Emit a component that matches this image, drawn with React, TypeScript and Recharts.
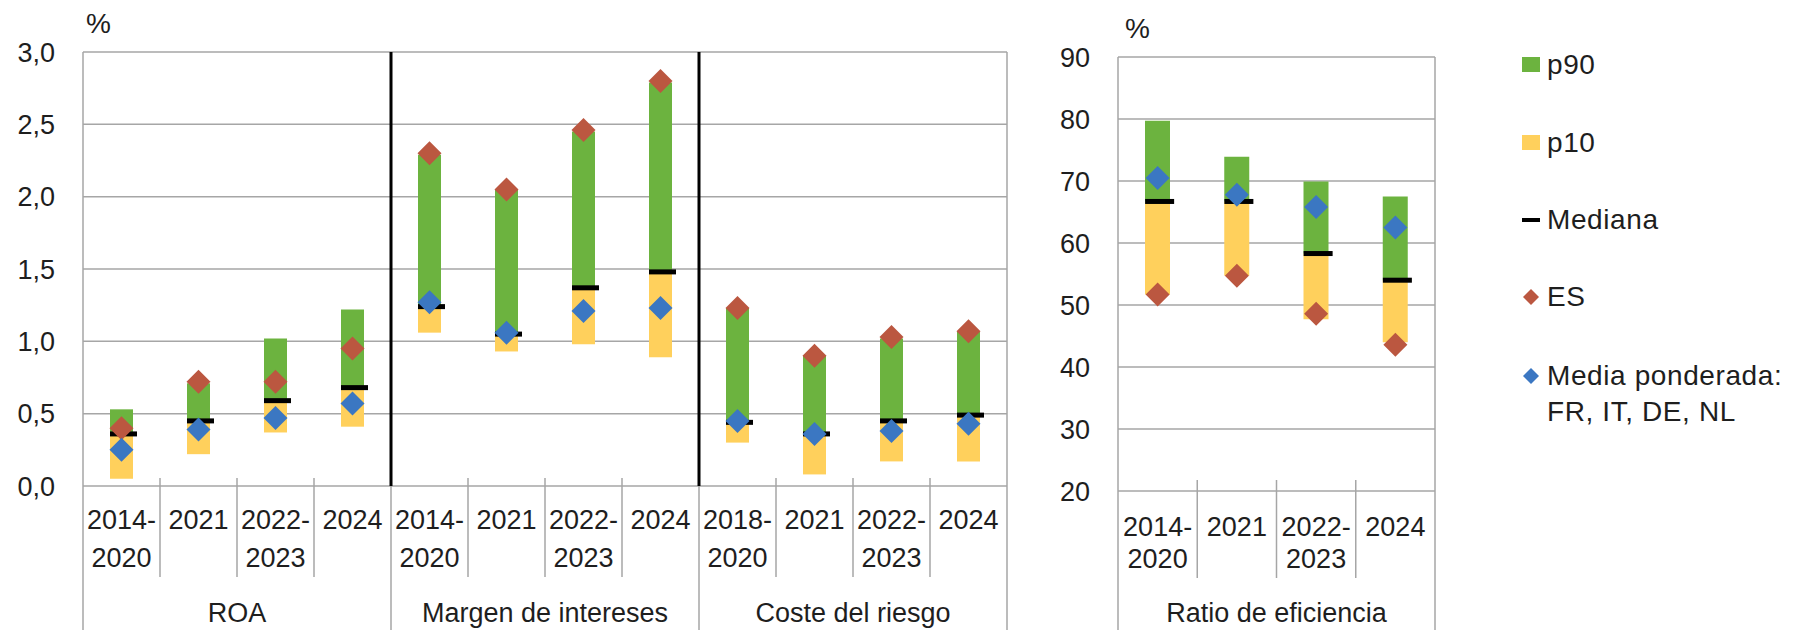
import React from 'react';
import { ComposedChart, Bar, Line, XAxis, YAxis, CartesianGrid, ReferenceLine } from 'recharts';

const GREEN = '#6cb33f';
const YELLOW = '#ffd05c';
const RED = '#bb5740';
const BLUE = '#3b77c2';
const GRID = '#a6a6a6';
const TEXT = '#1e1e1e';
const FONT = '"Liberation Sans", Arial, sans-serif';
const FS = 27;

// panel izquierdo: ROA, margen de intereses, coste del riesgo (%)
const periods = [
  '2014-2020', '2021', '2022-2023', '2024',
  '2014-2020', '2021', '2022-2023', '2024',
  '2018-2020', '2021', '2022-2023', '2024',
];
const groups = ['ROA', 'Margen de intereses', 'Coste del riesgo'];
const p10 = [0.05, 0.22, 0.37, 0.41, 1.06, 0.93, 0.98, 0.89, 0.30, 0.08, 0.17, 0.17];
const p90 = [0.53, 0.71, 1.02, 1.22, 2.29, 2.05, 2.45, 2.79, 1.23, 0.90, 1.02, 1.07];
const mediana = [0.36, 0.45, 0.59, 0.68, 1.24, 1.05, 1.37, 1.48, 0.44, 0.36, 0.45, 0.49];
const es = [0.40, 0.72, 0.72, 0.95, 2.30, 2.05, 2.46, 2.80, 1.23, 0.90, 1.03, 1.07];
const media = [0.25, 0.39, 0.47, 0.57, 1.27, 1.06, 1.21, 1.23, 0.45, 0.36, 0.38, 0.43];
const leftTicks = [0, 0.5, 1, 1.5, 2, 2.5, 3];

// panel derecho: ratio de eficiencia (%)
const effPeriods = ['2014-2020', '2021', '2022-2023', '2024'];
const effGroups = ['Ratio de eficiencia'];
const effP10 = [51.7, 54.7, 47.7, 44.0];
const effP90 = [79.7, 73.9, 69.9, 67.5];
const effMediana = [66.7, 66.7, 58.3, 54.0];
const effEs = [51.7, 54.7, 48.6, 43.6];
const effMedia = [70.5, 67.8, 65.8, 62.5];
const rightTicks = [20, 30, 40, 50, 60, 70, 80, 90];

const buildRows = (labels: string[], lo: number[], hi: number[], med: number[], e: number[], avg: number[]) =>
  labels.map((label, i) => ({
    key: `${i}|${label}`,
    base: lo[i],
    low: med[i] - lo[i],
    high: hi[i] - med[i],
    med: med[i],
    es: e[i],
    avg: avg[i],
  }));

const leftRows = buildRows(periods, p10, p90, mediana, es, media);
const rightRows = buildRows(effPeriods, effP10, effP90, effMediana, effEs, effMedia);

const fmtComma = (v: number) => v.toFixed(1).replace('.', ',');

const diamond = (color: string, h: number) => (p: any) => {
  const { cx, cy, index } = p;
  if (cx == null || cy == null) return <g key={index} />;
  return <path key={index} d={`M${cx},${cy - h}L${cx + h},${cy}L${cx},${cy + h}L${cx - h},${cy}Z`} fill={color} />;
};

const dash = (barW: number, w: number) => (p: any) => {
  const { cx, cy, index } = p;
  if (cx == null || cy == null) return <g key={index} />;
  return <rect key={index} x={cx - barW / 2} y={cy - 2.5} width={w} height={5} fill="#000" />;
};

type TickCfg = {
  labels: string[];
  groupLabels: string[];
  perGroup: number;
  bw: number;
  plotTop: number;
  axisY: number;
  tickTop: number;
  tickBottom: number;
  line1: number;
  line2: number;
  groupY: number;
  bottom: number;
};

const makeTick = (c: TickCfg) => (props: any) => {
  const { x, index } = props;
  const label = c.labels[index] ?? '';
  const dashAt = label.indexOf('-');
  const l1 = dashAt >= 0 ? label.slice(0, dashAt + 1) : label;
  const l2 = dashAt >= 0 ? label.slice(dashAt + 1) : '';
  const left = x - c.bw / 2;
  const right = x + c.bw / 2;
  const n = c.labels.length;
  const first = index % c.perGroup === 0;
  const txt = { fontSize: FS, fill: TEXT, textAnchor: 'middle' as const, dominantBaseline: 'central' as const };
  return (
    <g>
      {first ? (
        <line x1={left} x2={left} y1={index === 0 ? c.plotTop : c.axisY} y2={c.bottom} stroke={GRID} strokeWidth={1.5} />
      ) : (
        <line x1={left} x2={left} y1={c.tickTop} y2={c.tickBottom} stroke={GRID} strokeWidth={1.5} />
      )}
      {index === n - 1 && (
        <line x1={right} x2={right} y1={c.plotTop} y2={c.bottom} stroke={GRID} strokeWidth={1.5} />
      )}
      <text x={x} y={c.line1} {...txt}>{l1}</text>
      {l2 && <text x={x} y={c.line2} {...txt}>{l2}</text>}
      {first && (
        <text x={left + (c.perGroup * c.bw) / 2} y={c.groupY} {...txt}>
          {c.groupLabels[Math.floor(index / c.perGroup)]}
        </text>
      )}
    </g>
  );
};

const Panel = (props: {
  rows: any[];
  labels: string[];
  groupLabels: string[];
  width: number;
  yWidth: number;
  plotW: number;
  top: number;
  axisY: number;
  domain: [number, number];
  ticks: number[];
  fmt?: (v: number) => string;
  barW: number;
  separators: string[];
  tickTop: number;
  tickBottom: number;
  line1: number;
  line2: number;
}) => {
  const H = 630;
  const tick = makeTick({
    labels: props.labels,
    groupLabels: props.groupLabels,
    perGroup: 4,
    bw: props.plotW / props.labels.length,
    plotTop: props.top,
    axisY: props.axisY,
    tickTop: props.tickTop,
    tickBottom: props.tickBottom,
    line1: props.line1,
    line2: props.line2,
    groupY: 613,
    bottom: H,
  });
  return (
    <ComposedChart
      width={props.width}
      height={H}
      data={props.rows}
      margin={{ top: props.top, right: props.width - props.yWidth - props.plotW, bottom: 0, left: 0 }}
    >
      <CartesianGrid vertical={false} stroke={GRID} strokeWidth={1.5} />
      <XAxis dataKey="key" interval={0} tickLine={false} axisLine={false} height={H - props.axisY} tick={tick} />
      <YAxis
        type="number"
        domain={props.domain}
        ticks={props.ticks}
        tickFormatter={props.fmt}
        width={props.yWidth}
        tickLine={false}
        axisLine={false}
        tickSize={0}
        tickMargin={28}
        tick={{ fontSize: FS, fill: TEXT }}
        allowDataOverflow
      />
      <Bar dataKey="base" stackId="s" fill="transparent" barSize={props.barW} isAnimationActive={false} />
      <Bar dataKey="low" stackId="s" fill={YELLOW} barSize={props.barW} isAnimationActive={false} />
      <Bar dataKey="high" stackId="s" fill={GREEN} barSize={props.barW} isAnimationActive={false} />
      {props.separators.map((k) => (
        <ReferenceLine key={k} x={k} position="start" stroke="#000" strokeWidth={3} />
      ))}
      <Line dataKey="med" stroke="none" dot={dash(props.barW, props.barW + 4)} activeDot={false} isAnimationActive={false} />
      <Line dataKey="es" stroke="none" dot={diamond(RED, 12)} activeDot={false} isAnimationActive={false} />
      <Line dataKey="avg" stroke="none" dot={diamond(BLUE, 12)} activeDot={false} isAnimationActive={false} />
    </ComposedChart>
  );
};

const legendItems: { label: string[]; kind: 'sq' | 'dash' | 'dia'; color: string; y: number }[] = [
  { label: ['p90'], kind: 'sq', color: GREEN, y: 65 },
  { label: ['p10'], kind: 'sq', color: YELLOW, y: 143 },
  { label: ['Mediana'], kind: 'dash', color: '#000', y: 220 },
  { label: ['ES'], kind: 'dia', color: RED, y: 297 },
  { label: ['Media ponderada:', 'FR, IT, DE, NL'], kind: 'dia', color: BLUE, y: 376 },
];

const Marker = ({ kind, color }: { kind: string; color: string }) => (
  <svg width={18} height={18} style={{ position: 'absolute', left: 0, top: 9 }}>
    {kind === 'sq' && <rect x={0} y={1} width={18} height={15} fill={color} />}
    {kind === 'dash' && <rect x={0} y={7} width={18} height={4} fill={color} />}
    {kind === 'dia' && <path d="M9,1L17,9L9,17L1,9Z" fill={color} />}
  </svg>
);

export default function App() {
  return (
    <div
      style={{
        position: 'absolute',
        left: 0,
        top: 0,
        width: 1798,
        height: 630,
        background: '#fff',
        fontFamily: FONT,
        color: TEXT,
        overflow: 'hidden',
      }}
    >
      <div style={{ position: 'absolute', left: 0, top: 0 }}>
        <Panel
          rows={leftRows}
          labels={periods}
          groupLabels={groups}
          width={1040}
          yWidth={83}
          plotW={924}
          top={52}
          axisY={486}
          domain={[0, 3]}
          ticks={leftTicks}
          fmt={fmtComma}
          barW={23}
          separators={[leftRows[4].key, leftRows[8].key]}
          tickTop={478}
          tickBottom={577}
          line1={520}
          line2={558}
        />
      </div>
      <div style={{ position: 'absolute', left: 1040, top: 0 }}>
        <Panel
          rows={rightRows}
          labels={effPeriods}
          groupLabels={effGroups}
          width={420}
          yWidth={78}
          plotW={317}
          top={57}
          axisY={491}
          domain={[20, 90]}
          ticks={rightTicks}
          barW={25}
          separators={[]}
          tickTop={480}
          tickBottom={578}
          line1={527}
          line2={559}
        />
      </div>
      <div style={{ position: 'absolute', left: 86, top: 8, fontSize: 28, lineHeight: '32px' }}>%</div>
      <div style={{ position: 'absolute', left: 1125, top: 13, fontSize: 28, lineHeight: '32px' }}>%</div>
      {legendItems.map((it) => (
        <div
          key={it.label[0]}
          style={{
            position: 'absolute',
            left: 1522,
            top: it.y - 18,
            fontSize: 28,
            letterSpacing: 0.6,
            lineHeight: '36px',
            whiteSpace: 'nowrap',
          }}
        >
          <Marker kind={it.kind} color={it.color} />
          <div style={{ marginLeft: 25 }}>
            {it.label.map((l) => (
              <div key={l}>{l}</div>
            ))}
          </div>
        </div>
      ))}
    </div>
  );
}
